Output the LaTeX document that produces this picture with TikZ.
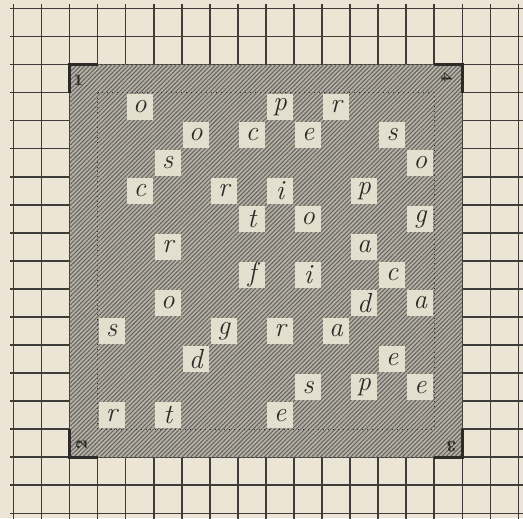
\documentclass[tikz,border=0pt]{standalone}
\usetikzlibrary{patterns.meta}
\definecolor{paper}{RGB}{236,229,213}
\definecolor{gridc}{RGB}{62,60,57}
\definecolor{hatchbg}{RGB}{182,178,168}
\definecolor{hatchln}{RGB}{102,100,94}
\definecolor{holec}{RGB}{228,222,207}
\definecolor{ink}{RGB}{45,43,40}
\tikzset{
  gridline/.style={draw=gridc, line width=0.8pt},
  frame/.style={preaction={fill=hatchbg}, pattern={Lines[angle=45,distance=1.55pt,line width=0.55pt]}, pattern color=hatchln},
  innerline/.style={draw=ink, line width=0.5pt, dotted},
  cornermark/.style={draw=ink, line width=1.3pt},
  hole/.style={fill=holec, minimum size=0.46cm, inner sep=0pt, text=ink, font=\fontsize{14}{14}\selectfont\itshape},
  cornerlabel/.style={inner sep=0pt, text=ink, font=\fontsize{8}{8}\selectfont\bfseries}
}
\begin{document}
\begin{tikzpicture}[x=0.5cm, y=-0.5cm]
\useasboundingbox[fill=paper] (-0.481,-0.30) rectangle (18.164,18.167);
% background grid
\foreach \i in {0,...,18} {
  \draw[gridline] (\i,-0.15) -- (\i,18.3);
  \draw[gridline] (-0.12,\i) -- (18.3,\i);
}
% hatched grille frame
\path[frame] (2,2) rectangle (16,16);
\draw[innerline] (3,3) rectangle (15,15);
% corner marks
\draw[cornermark] (3,2) -- (2,2) -- (2,3);
\draw[cornermark] (15,2) -- (16,2) -- (16,3);
\draw[cornermark] (2,15) -- (2,16) -- (3,16);
\draw[cornermark] (15,16) -- (16,16) -- (16,15);
% corner labels
\node[cornerlabel] (n1) at (2.32,2.55) {1};
\node[cornerlabel, rotate=-90] (n4) at (15.45,2.45) {4};
\node[cornerlabel, rotate=180] (n3) at (15.62,15.62) {3};
\node[cornerlabel, rotate=90] (n2) at (2.42,15.55) {2};
% holes with letters: row/col/letter
\foreach \r/\c/\l in {
  0/1/o, 0/6/p, 0/8/r,
  1/3/o, 1/5/c, 1/7/e, 1/10/s,
  2/2/s, 2/11/o,
  3/1/c, 3/4/r, 3/6/i, 3/9/p,
  4/5/t, 4/7/o, 4/11/g,
  5/2/r, 5/9/a,
  6/5/f, 6/7/i, 6/10/c,
  7/2/o, 7/9/d, 7/11/a,
  8/0/s, 8/4/g, 8/6/r, 8/8/a,
  9/3/d, 9/10/e,
  10/7/s, 10/9/p, 10/11/e,
  11/0/r, 11/2/t, 11/6/e} {
  \node[hole] (h-\r-\c) at (3.5+\c,3.5+\r) {\l};
}
\end{tikzpicture}
\end{document}
